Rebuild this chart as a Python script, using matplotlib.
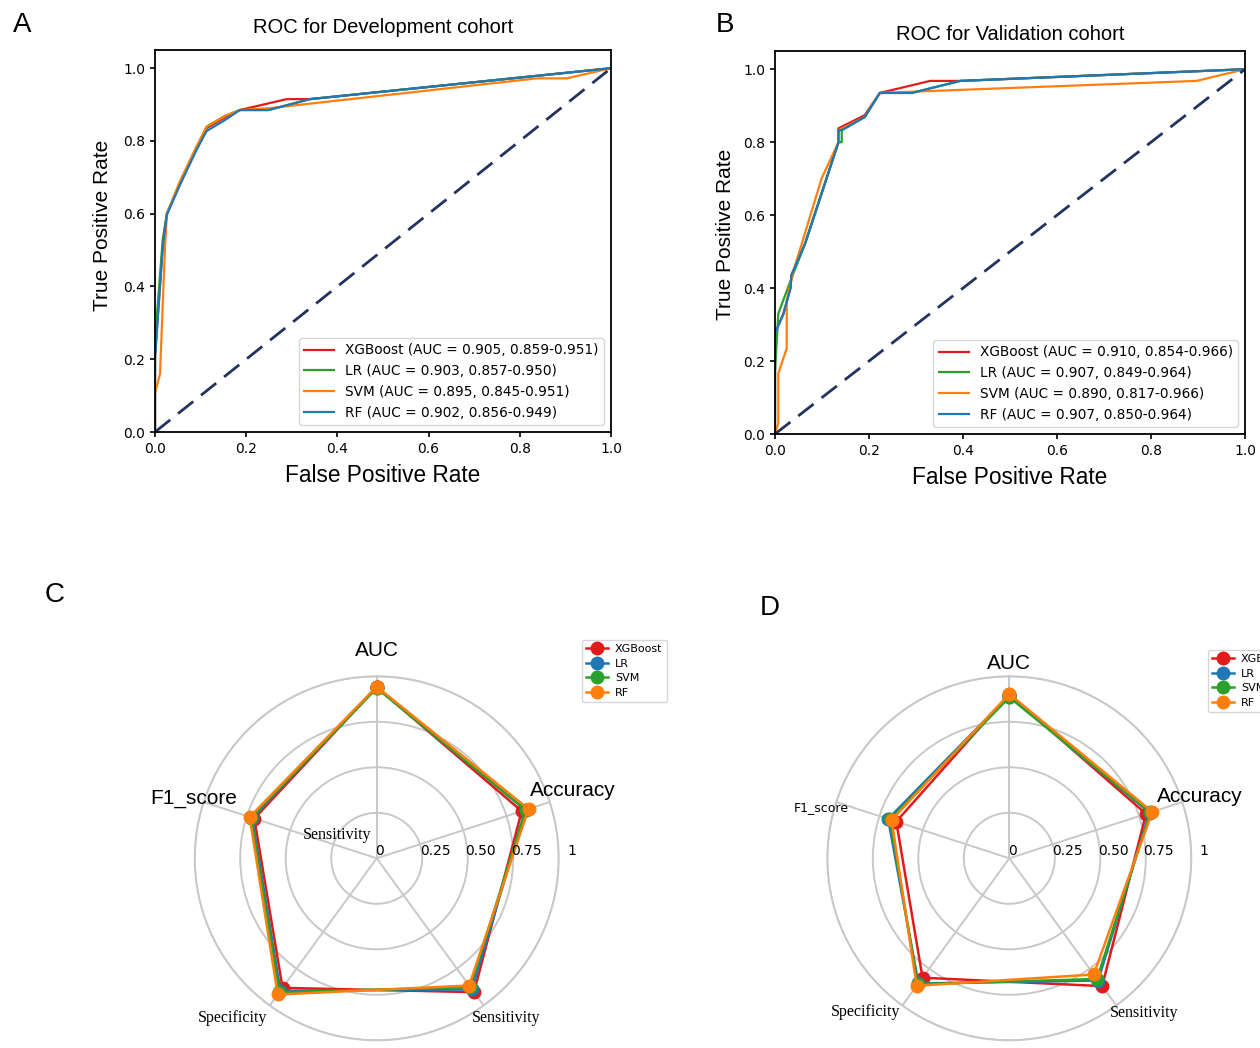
import numpy as np
import matplotlib
matplotlib.use("Agg")
import matplotlib.pyplot as plt

# --- data -------------------------------------------------------------
models = ["XGBoost", "LR", "SVM", "RF"]
roc_colors = ["#e31a1c", "#2ca02c", "#ff7f0e", "#1f77b4"]
radar_colors = ["#e31a1c", "#1f77b4", "#2ca02c", "#ff7f0e"]

# A: development cohort ROC
dev_fpr_xgb = [0, 0, 0.017, 0.026, 0.055, 0.091, 0.113, 0.154, 0.186, 0.289, 0.34, 1.0]
dev_tpr_xgb = [0, 0.21, 0.51, 0.60, 0.685, 0.78, 0.835, 0.865, 0.885, 0.915, 0.915, 1.0]
dev_fpr_lr = [0, 0, 0.017, 0.026, 0.055, 0.091, 0.113, 0.154, 0.186, 0.249, 0.34, 1.0]
dev_tpr_lr = [0, 0.25, 0.53, 0.60, 0.685, 0.78, 0.839, 0.869, 0.885, 0.885, 0.915, 1.0]
dev_fpr_svm = [0, 0, 0.011, 0.022, 0.026, 0.055, 0.091, 0.113, 0.154, 0.186, 0.25, 0.837, 0.903, 1.0]
dev_tpr_svm = [0, 0.107, 0.16, 0.51, 0.60, 0.69, 0.785, 0.839, 0.869, 0.885, 0.89, 0.972, 0.972, 1.0]
dev_fpr_rf = [0, 0, 0.017, 0.026, 0.055, 0.091, 0.113, 0.154, 0.186, 0.249, 0.34, 1.0]
dev_tpr_rf = [0, 0.2, 0.51, 0.597, 0.68, 0.775, 0.827, 0.858, 0.885, 0.885, 0.915, 1.0]
dev_auc = ["0.905, 0.859-0.951", "0.903, 0.857-0.950", "0.895, 0.845-0.951", "0.902, 0.856-0.949"]

# B: validation cohort ROC
val_fpr_xgb = [0, 0, 0.018, 0.033, 0.035, 0.064, 0.135, 0.135, 0.191, 0.223, 0.33, 0.394, 1.0]
val_tpr_xgb = [0, 0.276, 0.33, 0.40, 0.436, 0.522, 0.80, 0.838, 0.874, 0.935, 0.968, 0.968, 1.0]
val_fpr_lr = [0, 0, 0.007, 0.033, 0.064, 0.135, 0.142, 0.142, 0.191, 0.223, 0.291, 0.394, 1.0]
val_tpr_lr = [0, 0.17, 0.33, 0.42, 0.522, 0.80, 0.80, 0.833, 0.869, 0.935, 0.935, 0.968, 1.0]
val_fpr_svm = [0, 0.007, 0.007, 0.025, 0.025, 0.04, 0.099, 0.135, 0.135, 0.191, 0.223, 0.897, 1.0]
val_tpr_svm = [0, 0.03, 0.166, 0.235, 0.367, 0.45, 0.70, 0.80, 0.833, 0.869, 0.935, 0.968, 1.0]
val_fpr_rf = [0, 0, 0.018, 0.033, 0.035, 0.064, 0.135, 0.135, 0.142, 0.191, 0.223, 0.291, 0.394, 1.0]
val_tpr_rf = [0, 0.276, 0.33, 0.40, 0.436, 0.522, 0.80, 0.833, 0.833, 0.869, 0.935, 0.935, 0.968, 1.0]
val_auc = ["0.910, 0.854-0.966", "0.907, 0.849-0.964", "0.890, 0.817-0.966", "0.907, 0.850-0.964"]

# C / D: radar metrics (AUC, Accuracy, Sensitivity, Specificity, F1_score)
metrics = ["AUC", "Accuracy", "Sensitivity", "Specificity", "F1_score"]
dev_xgb = [0.94, 0.838, 0.909, 0.88, 0.707]
dev_lr = [0.94, 0.86, 0.89, 0.90, 0.72]
dev_svm = [0.935, 0.86, 0.875, 0.91, 0.725]
dev_rf = [0.943, 0.877, 0.864, 0.925, 0.734]
val_xgb = [0.90, 0.79, 0.868, 0.811, 0.653]
val_lr = [0.895, 0.81, 0.83, 0.85, 0.70]
val_svm = [0.885, 0.815, 0.82, 0.855, 0.69]
val_rf = [0.903, 0.826, 0.789, 0.866, 0.68]
r_ticks = [0, 0.25, 0.5, 0.75, 1.0]
r_tick_labels = ["0", "0.25", "0.50", "0.75", "1"]

W, H = 1260, 1048
fig = plt.figure(figsize=(W / 100, H / 100), dpi=100)
SANS = "Liberation Sans"
SERIF = "Liberation Serif"


def px_rect(left, top, right, bottom):
    return [left / W, 1 - bottom / H, (right - left) / W, (bottom - top) / H]


def roc_panel(rect, title, curves, aucs, title_pad, ylab_xy):
    ax = fig.add_axes(rect)
    for (fpr, tpr), name, color, auc in zip(curves, models, roc_colors, aucs):
        ax.plot(fpr, tpr, color=color, lw=1.6, label=f"{name} (AUC = {auc})")
    ax.plot([0, 1], [0, 1], color="#22335f", lw=2, ls=(0, (7, 3.6)))
    ax.set_xlim(0, 1.0)
    ax.set_ylim(0, 1.05)
    ax.set_title(title, fontsize=14.5, family=SANS, pad=title_pad)
    ax.set_xlabel("False Positive Rate", fontsize=16.3, family=SANS, labelpad=6)
    ax.set_ylabel("True Positive Rate", fontsize=15, family=SANS)
    ax.yaxis.set_label_coords(*ylab_xy)
    ax.tick_params(labelsize=10, width=1.2)
    for s in ax.spines.values():
        s.set_linewidth(1.3)
    ax.legend(loc="lower right", fontsize=9.8, handlelength=2.2)
    return ax


roc_panel(px_rect(155, 50, 611, 432), "ROC for Development cohort",
          [(dev_fpr_xgb, dev_tpr_xgb), (dev_fpr_lr, dev_tpr_lr),
           (dev_fpr_svm, dev_tpr_svm), (dev_fpr_rf, dev_tpr_rf)], dev_auc, 12, (-0.095, 0.54))
roc_panel(px_rect(775, 51, 1245, 434), "ROC for Validation cohort",
          [(val_fpr_xgb, val_tpr_xgb), (val_fpr_lr, val_tpr_lr),
           (val_fpr_svm, val_tpr_svm), (val_fpr_rf, val_tpr_rf)], val_auc, 8, (-0.085, 0.52))


def radar_panel(cx, cy, series, label_style, legend_xy, inner_label=False):
    R = 182
    ax = fig.add_axes(px_rect(cx - R, cy - R, cx + R, cy + R), projection="polar")
    ax.set_theta_offset(np.pi / 2)
    ax.set_theta_direction(-1)
    angles = np.linspace(0, 2 * np.pi, len(metrics), endpoint=False)
    for vals, name, color in zip(series, models, radar_colors):
        a = np.append(angles, angles[0])
        v = np.append(vals, vals[0])
        ax.plot(a, v, color=color, lw=1.8, marker="o", ms=9, label=name)
    ax.set_ylim(0, 1.0)
    ax.set_xticks(angles)
    ax.set_xticklabels([])
    ax.set_yticks(r_ticks[1:])
    ax.set_yticklabels([])
    ax.grid(color="#c8c8c8", lw=1.4)
    ax.spines["polar"].set_color("#c8c8c8")
    ax.spines["polar"].set_linewidth(1.4)
    # radial value labels along the east spoke
    for rv, lab in zip(r_ticks, r_tick_labels):
        ax.text(np.pi / 2, rv + (0.07 if rv > 0 else 0.015), lab, ha="center", va="bottom",
                fontsize=10, family="DejaVu Sans")
    # metric labels
    for name, (deg, r, fam, size) in zip(metrics, label_style):
        ax.text(np.deg2rad(deg), r, name, ha="center", va="center", fontsize=size, family=fam)
    if inner_label:
        ax.text(np.deg2rad(300), 0.253, "Sensitivity", ha="center", va="center",
                fontsize=11.5, family=SERIF)
    ax.legend(loc="upper left", bbox_to_anchor=(legend_xy[0] / W, 1 - legend_xy[1] / H),
              bbox_transform=fig.transFigure, fontsize=8, handlelength=2.0,
              labelspacing=0.42, borderpad=0.4, handletextpad=0.6)
    return ax


dev_style = [(0, 1.14, SANS, 15), (71, 1.14, SANS, 15), (141, 1.13, SERIF, 11.5),
             (222, 1.18, SERIF, 11.5), (288, 1.06, SANS, 15)]
val_style = [(0, 1.07, SANS, 15), (72, 1.10, SANS, 15), (139, 1.126, SERIF, 11.5),
             (223, 1.155, SERIF, 11.5), (285, 1.07, "DejaVu Sans", 9)]

radar_panel(376.7, 858.3, [dev_xgb, dev_lr, dev_svm, dev_rf], dev_style, (576, 634), inner_label=True)
radar_panel(1009.3, 858.3, [val_xgb, val_lr, val_svm, val_rf], val_style, (1202, 644))

for letter, x, y in [("A", 22, 25), ("B", 725, 25), ("C", 55, 595), ("D", 770, 608)]:
    fig.text(x / W, 1 - y / H, letter, fontsize=20, family=SANS, ha="center", va="center")

fig.savefig("out.png", dpi=100)
